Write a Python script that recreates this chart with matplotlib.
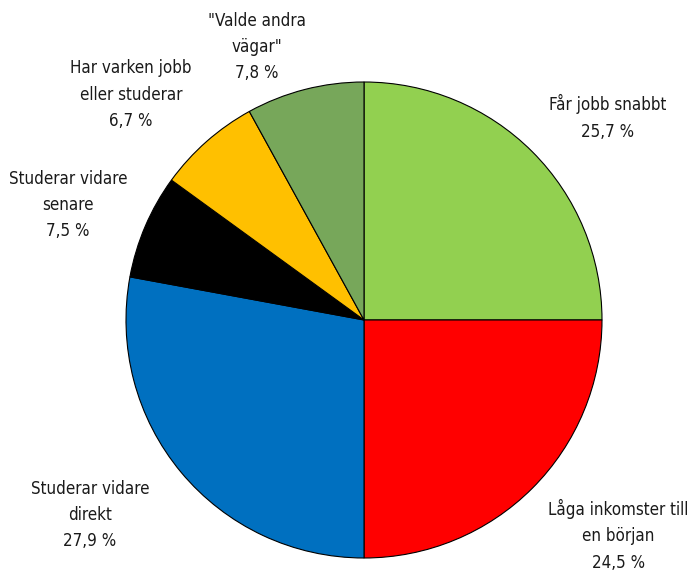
import matplotlib
matplotlib.use("Agg")
import matplotlib.pyplot as plt
from matplotlib import font_manager

# pick a narrow face if one is installed
narrow = None
for f in font_manager.fontManager.ttflist:
    if f.style == "normal" and f.weight in (400, "normal", "regular") and \
            ("Narrow" in f.name or "Condensed" in f.name or
             str(f.stretch) in ("condensed", "semi-condensed", "extra-condensed") or
             (isinstance(f.stretch, int) and f.stretch < 500)):
        narrow = f
        break

labels = ["Får jobb snabbt", "Låga inkomster till\nen början", "Studerar vidare\ndirekt",
          "Studerar vidare\nsenare", "Har varken jobb\neller studerar", "\"Valde andra\nvägar\""]
value_text = ["25,7 %", "24,5 %", "27,9 %", "7,5 %", "6,7 %", "7,8 %"]
# wedge sizes as drawn in the picture
values = [25.0, 25.0, 27.9, 7.1, 7.0, 8.0]
colors = ["#92D050", "#FF0000", "#0070C0", "#000000", "#FFC000", "#77A75A"]

# where each label sits, in units of the pie radius
label_pos = [(1.025, 0.851), (1.07, -0.905), (-1.151, -0.819),
             (-1.244, 0.483), (-0.979, 0.947), (-0.45, 1.147)]

fig = plt.figure(figsize=(6.92, 5.70), dpi=100)
ax = fig.add_axes([0, 0, 1, 1])
ax.pie(values, colors=colors, startangle=90, counterclock=False, radius=1,
       wedgeprops=dict(edgecolor="black", linewidth=0.8))
ax.set_aspect("auto")
ax.set_xlim(-364 / 238, (692 - 364) / 238)
ax.set_ylim(-(570 - 320) / 238, 320 / 238)
ax.axis("off")

if narrow is not None:
    fp = font_manager.FontProperties(fname=narrow.fname, size=12.2)
else:
    fp = font_manager.FontProperties(family="DejaVu Sans", size=11)

for lab, val, (x, y) in zip(labels, value_text, label_pos):
    ax.text(x, y, lab + "\n" + val, ha="center", va="center", fontproperties=fp,
            linespacing=1.58, color="#1a1a1a")

fig.savefig("out.png", dpi=100)
